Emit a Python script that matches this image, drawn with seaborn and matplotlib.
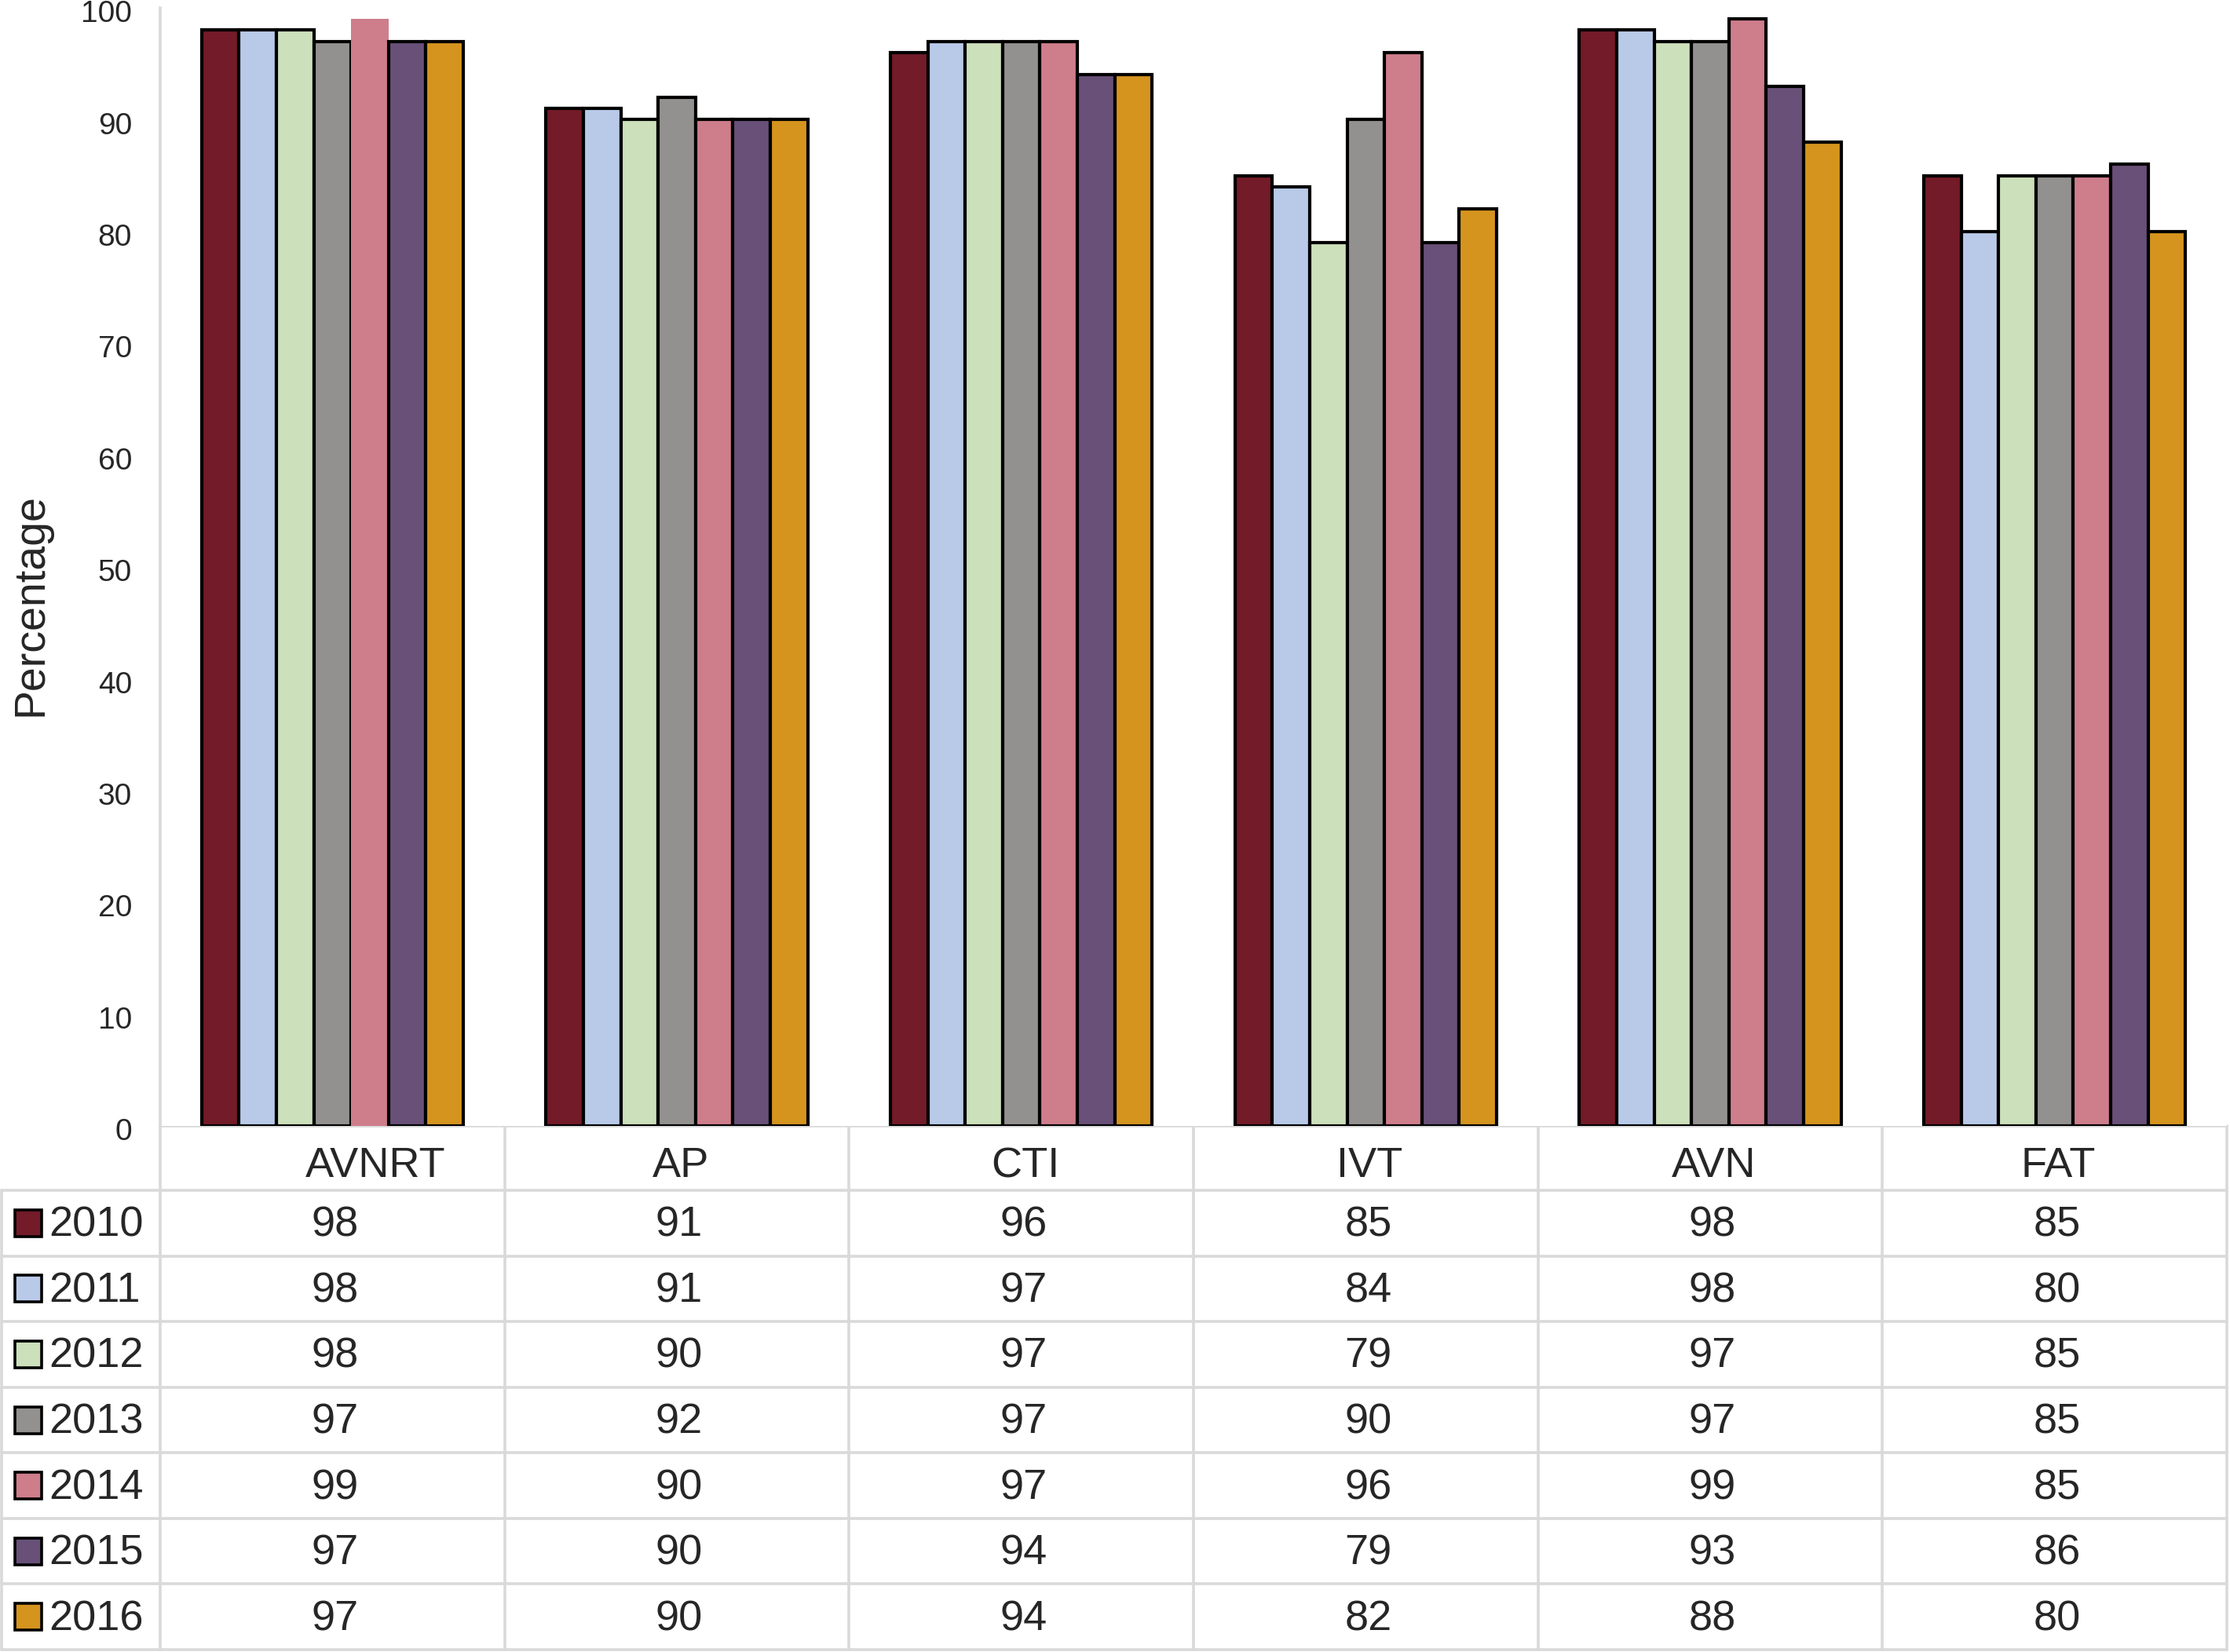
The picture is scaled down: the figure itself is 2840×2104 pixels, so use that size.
import numpy as np
import pandas as pd
import matplotlib
matplotlib.use("Agg")
import matplotlib.pyplot as plt
import matplotlib.transforms as mtransforms
import seaborn as sns
from matplotlib.patches import Rectangle

categories = ["AVNRT", "AP", "CTI", "IVT", "AVN", "FAT"]
years = ["2010", "2011", "2012", "2013", "2014", "2015", "2016"]
v2010 = [98, 91, 96, 85, 98, 85]
v2011 = [98, 91, 97, 84, 98, 80]
v2012 = [98, 90, 97, 79, 97, 85]
v2013 = [97, 92, 97, 90, 97, 85]
v2014 = [99, 90, 97, 96, 99, 85]
v2015 = [97, 90, 94, 79, 93, 86]
v2016 = [97, 90, 94, 82, 88, 80]
yticks = list(range(0, 101, 10))

colors = ["#731B28", "#B9CAE9", "#CCE0BB", "#939190", "#CE7D8B", "#685078", "#D5941E"]
grid_c = "#D9D9D9"

series = [v2010, v2011, v2012, v2013, v2014, v2015, v2016]
df = pd.DataFrame([
    {"cat": c, "year": y, "val": s[i]}
    for y, s in zip(years, series) for i, c in enumerate(categories)
])

sns.set_theme(style="white")
plt.rcParams["font.family"] = ["Liberation Sans", "DejaVu Sans"]

W, H = 2840, 2104
fig = plt.figure(figsize=(W / 200, H / 200), dpi=200)

# plot area in pixels
x0, x1 = 204, 2836
y_top, y_base = 10, 1434
ax = fig.add_axes([x0 / W, 1 - y_base / H, (x1 - x0) / W, (y_base - y_top) / H])

sns.barplot(data=df, x="cat", y="val", hue="year", order=categories, hue_order=years,
            palette=colors, width=0.76, saturation=1, edgecolor="black", linewidth=1.5,
            ax=ax, legend=False)
# the 2014 AVNRT bar has no outline in the original
ax.containers[4].patches[0].set_edgecolor("none")

ax.set_xlim(-0.5, len(categories) - 0.5)
ax.set_ylim(0, 100)
ax.set_yticks(yticks)
ax.set_yticklabels([str(t) for t in yticks], fontsize=14)
ax.tick_params(axis="y", length=0, pad=13)
# tick labels sit slightly low in the original
shift_down = mtransforms.ScaledTranslation(0, -1.5 / 72, fig.dpi_scale_trans)
for lab in ax.get_yticklabels():
    lab.set_transform(lab.get_transform() + shift_down)
ax.set_xticks([])
ax.set_xlabel("")
ax.set_ylabel("")
for s in ["top", "right", "bottom"]:
    ax.spines[s].set_visible(False)
ax.spines["left"].set_color(grid_c)
ax.spines["left"].set_linewidth(1.3)

fig.text(40 / W, 1 - 770 / H, "Percentage", rotation=90, ha="center", va="center", fontsize=20)

# data table below the chart, drawn in pixel space
tab = fig.add_axes([0, 0, 1, 1], zorder=-1)
tab.set_xlim(0, W)
tab.set_ylim(H, 0)
tab.axis("off")

col_w = (x1 - x0) / len(categories)
head_bot = 1516
row_h = (2101 - head_bot) / len(years)
lw = 1.3

# horizontal lines
tab.plot([x0, x1], [y_base, y_base], color=grid_c, lw=lw)
for r in range(len(years) + 1):
    yy = head_bot + r * row_h
    tab.plot([2, x1], [yy, yy], color=grid_c, lw=lw)
# vertical lines
tab.plot([2, 2], [head_bot, head_bot + len(years) * row_h], color=grid_c, lw=lw)
for c in range(len(categories) + 1):
    xx = x0 + c * col_w
    tab.plot([xx, xx], [y_base, head_bot + len(years) * row_h], color=grid_c, lw=lw)

for c, name in enumerate(categories):
    xc = x0 + (c + 0.5) * col_w
    # first header sits a little right of centre in the original
    shift = 55 if c == 0 else 5
    tab.text(xc + shift, (y_base + head_bot) / 2 + 10, name, ha="center", va="center", fontsize=19.5)
    for r, s in enumerate(series):
        yc = head_bot + (r + 0.5) * row_h
        tab.text(xc + 3, yc + 3, str(s[c]), ha="center", va="center", fontsize=19.5)

for r, (yr, col) in enumerate(zip(years, colors)):
    yc = head_bot + (r + 0.5) * row_h
    tab.add_patch(Rectangle((19, yc - 17), 34, 34, facecolor=col, edgecolor="black", lw=1.3))
    tab.text(62, yc + 3, yr, ha="left", va="center", fontsize=19.5)

fig.savefig("out.png", dpi=200, facecolor="white")
